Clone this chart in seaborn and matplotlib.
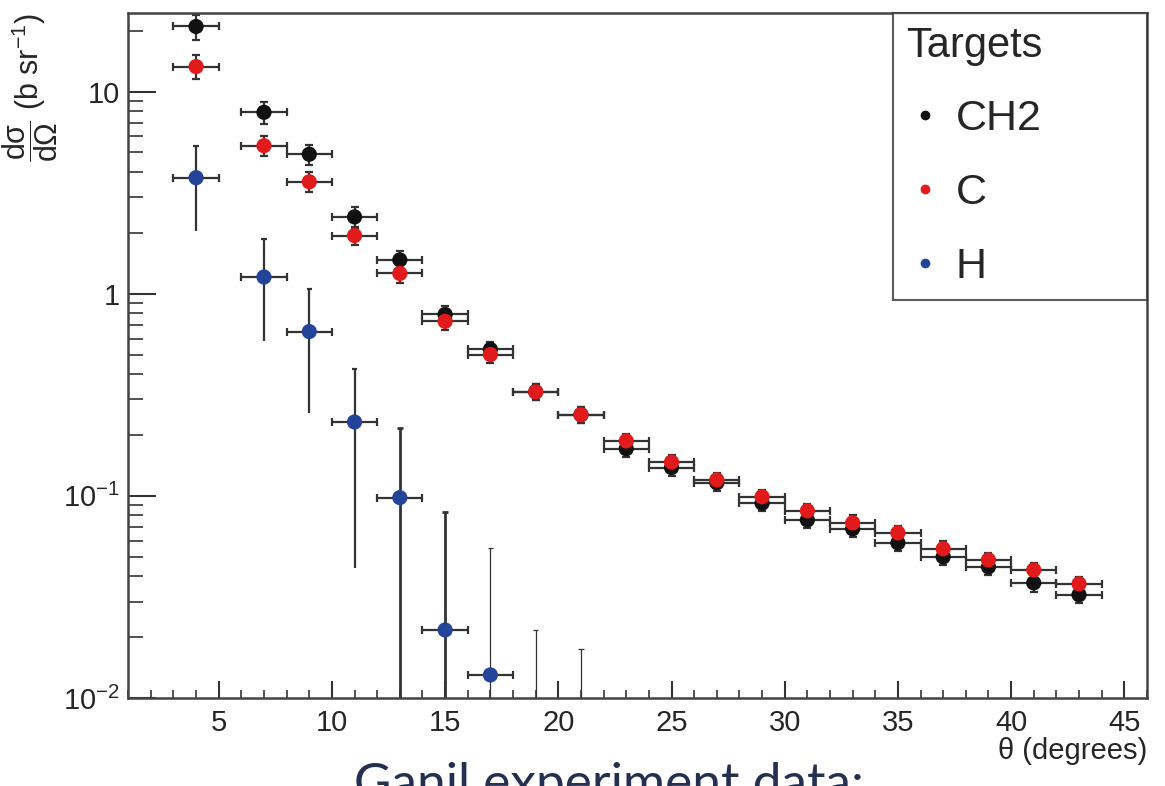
import numpy as np
import pandas as pd
import seaborn as sns
import matplotlib
matplotlib.use("Agg")
import matplotlib.pyplot as plt
from matplotlib.lines import Line2D
from matplotlib.ticker import LogLocator, FixedLocator, MultipleLocator, NullFormatter

# ---------------- data ----------------
theta = [4, 7, 9, 11, 13, 15, 17, 19, 21, 23, 25, 27, 29, 31, 33, 35, 37, 39, 41, 43]
theta_halfwidth = [1] * 20

ch2 = [21.0, 7.9, 4.9, 2.4, 1.47, 0.79, 0.53, 0.327, 0.252, 0.171, 0.138, 0.116,
       0.092, 0.076, 0.0687, 0.0585, 0.0499, 0.0445, 0.0371, 0.0324]
ch2_err = [3.0, 1.0, 0.55, 0.28, 0.16, 0.08, 0.05, 0.03, 0.022, 0.015, 0.012, 0.010,
           0.008, 0.0068, 0.006, 0.0052, 0.0045, 0.004, 0.0035, 0.003]

c = [13.3, 5.4, 3.58, 1.94, 1.26, 0.73, 0.50, 0.327, 0.252, 0.187, 0.147, 0.120,
     0.099, 0.0843, 0.0735, 0.0656, 0.0547, 0.0482, 0.043, 0.0367]
c_err = [1.8, 0.6, 0.4, 0.2, 0.13, 0.07, 0.045, 0.03, 0.022, 0.016, 0.013, 0.010,
         0.0085, 0.0072, 0.0065, 0.0057, 0.0048, 0.0042, 0.0038, 0.0032]

h_theta = [4, 7, 9, 11, 13, 15, 17, 19, 21]
h = [3.75, 1.21, 0.65, 0.232, 0.098, 0.0217, 0.013, np.nan, np.nan]
h_upper = [5.4, 1.87, 1.05, 0.426, 0.217, 0.083, 0.055, 0.0217, 0.0175]
h_lower = [2.05, 0.585, 0.258, 0.044, 1e-4, 1e-4, 1e-4, 1e-4, 1e-4]
h_barwidth = [1.6, 1.6, 1.6, 1.6, 2.0, 2.0, 0.9, 0.9, 0.9]

series_names = ["CH2", "C", "H"]
series_colors = ["#111111", "#e11b1b", "#24449a"]

x_ticks = [5, 10, 15, 20, 25, 30, 35, 40, 45]
y_ticks = [0.01, 0.1, 1, 10]
y_ticklabels = [r"$10^{-2}$", r"$10^{-1}$", "1", "10"]

# ---------------- style ----------------
sns.set_theme(style="white")
plt.rcParams["font.family"] = ["Liberation Sans", "DejaVu Sans"]
plt.rcParams["mathtext.fontset"] = "custom"
plt.rcParams["mathtext.rm"] = "Liberation Sans"
plt.rcParams["mathtext.it"] = "Liberation Sans"
plt.rcParams["mathtext.bf"] = "Liberation Sans:bold"

fig = plt.figure(figsize=(11.65, 7.86), dpi=100)
ax = fig.add_axes([0.110, 0.112, 0.8745, 0.8715])

ecol = "#333333"

df = pd.DataFrame({
    "theta": theta * 2 + h_theta,
    "val": ch2 + c + h,
    "target": ["CH2"] * len(theta) + ["C"] * len(theta) + ["H"] * len(h_theta),
})

# error bars
ax.errorbar(theta, ch2, xerr=theta_halfwidth, yerr=ch2_err, fmt="none",
            ecolor=ecol, elinewidth=1.6, capsize=3, capthick=1.6, zorder=2)
ax.errorbar(theta, c, xerr=theta_halfwidth, yerr=c_err, fmt="none",
            ecolor=ecol, elinewidth=1.6, capsize=3, capthick=1.6, zorder=2)
h_valid = [i for i, v in enumerate(h) if not np.isnan(v)]
ax.errorbar([h_theta[i] for i in h_valid], [h[i] for i in h_valid],
            xerr=[1] * len(h_valid), fmt="none", ecolor=ecol,
            elinewidth=1.6, capsize=3, capthick=1.6, zorder=2)
for xv, lo, up, lw in zip(h_theta, h_lower, h_upper, h_barwidth):
    ax.vlines(xv, lo, up, color=ecol, linewidth=lw, zorder=2)
    ax.hlines(up, xv - 0.12, xv + 0.12, color=ecol, linewidth=lw, zorder=2)

sns.scatterplot(data=df, x="theta", y="val", hue="target",
                hue_order=series_names, palette=series_colors,
                s=120, edgecolor="none", legend=False, ax=ax, zorder=3)

ax.set_yscale("log")
ax.set_xlim(1, 46)
ax.set_ylim(0.01, 24.5)

ax.xaxis.set_major_locator(FixedLocator(x_ticks))
ax.xaxis.set_minor_locator(MultipleLocator(1))
ax.set_xticklabels([str(t) for t in x_ticks])
ax.yaxis.set_major_locator(FixedLocator(y_ticks))
ax.set_yticklabels(y_ticklabels)
ax.yaxis.set_minor_locator(LogLocator(base=10, subs=np.arange(2, 10)))
ax.yaxis.set_minor_formatter(NullFormatter())

ax.tick_params(axis="x", which="major", direction="in", length=12, width=1.5,
               labelsize=21, pad=8, color="#333333", bottom=True, top=False)
ax.tick_params(axis="x", which="minor", direction="in", length=6, width=1.2,
               color="#333333", bottom=True, top=False)
ax.tick_params(axis="y", which="major", direction="in", length=20, width=1.5,
               labelsize=21, pad=6, color="#333333", left=True, right=False)
ax.tick_params(axis="y", which="minor", direction="in", length=11, width=1.2,
               color="#333333", left=True, right=False)

for sp in ax.spines.values():
    sp.set_color("#444444")
    sp.set_linewidth(1.8)

ax.set_xlabel("θ (degrees)", fontsize=21, loc="right", labelpad=0)
ax.set_ylabel(r"$\dfrac{d\sigma}{d\Omega}$ (b sr$^{-1}$)", fontsize=22,
              loc="top", labelpad=2)

handles = [Line2D([0], [0], marker="o", linestyle="none", markersize=7,
                  markerfacecolor=col, markeredgecolor="none", label=name)
           for name, col in zip(series_names, series_colors)]
leg = ax.legend(handles=handles, title="Targets", loc="upper left",
                bbox_to_anchor=(0.7507, 1.0, 0.2493, 0.0), mode="expand",
                borderaxespad=0, frameon=True, fancybox=False,
                fontsize=31, title_fontsize=30, labelspacing=0.78,
                handletextpad=0.25, handlelength=0.9, borderpad=0.3,
                alignment="left")
leg.get_frame().set_edgecolor("#333333")
leg.get_frame().set_linewidth(1.5)

fig.text(0.523, 0.031, "Ganil experiment data:", fontsize=37, color="#24304f",
         ha="center", va="top", family=["Lato", "DejaVu Sans"])

fig.savefig("out.png", dpi=100)
